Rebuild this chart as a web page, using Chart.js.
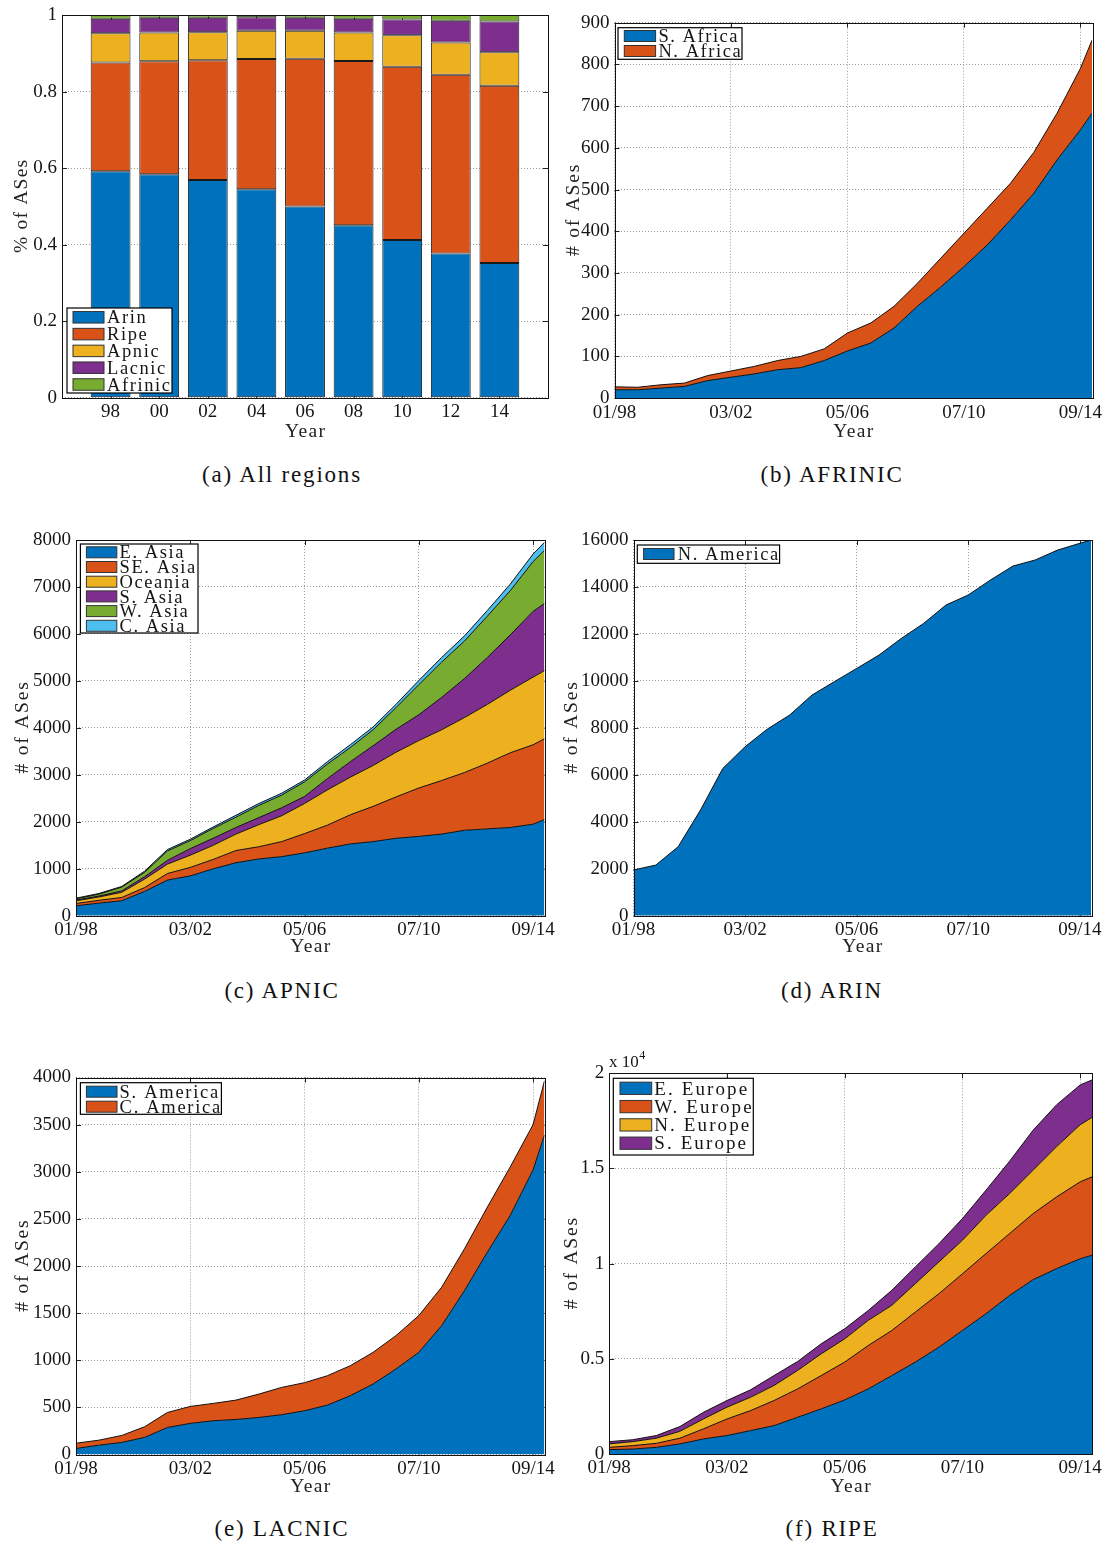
<!DOCTYPE html>
<html><head><meta charset="utf-8">
<script src="https://cdn.jsdelivr.net/npm/chart.js@4.4.1/dist/chart.umd.min.js"></script>
<style>
html,body{margin:0;padding:0;background:#fff;}
body{width:1111px;height:1546px;position:relative;overflow:hidden;}
canvas{position:absolute;}
.cap{position:absolute;width:400px;text-align:center;font-family:'Liberation Serif','DejaVu Serif',serif;font-size:23px;letter-spacing:1.8px;line-height:1;color:#111;white-space:nowrap;}
</style></head><body>
<canvas id="ca"></canvas><canvas id="cb"></canvas><canvas id="cc"></canvas>
<canvas id="cd"></canvas><canvas id="ce"></canvas><canvas id="cf"></canvas>
<div class="cap" style="left:82px;top:463px">(a) All regions</div>
<div class="cap" style="left:632px;top:463px">(b) AFRINIC</div>
<div class="cap" style="left:82px;top:979px">(c) APNIC</div>
<div class="cap" style="left:632px;top:979px">(d) ARIN</div>
<div class="cap" style="left:82px;top:1517px">(e) LACNIC</div>
<div class="cap" style="left:632px;top:1517px">(f) RIPE</div>
<script>
// ---------- DATA ----------
// (a) share of ASes per RIR
const barYears = ['98','00','02','04','06','08','10','12','14'];
const shareArin    = [0.592,0.584,0.569,0.545,0.500,0.451,0.412,0.377,0.352];
const shareRipe    = [0.284,0.295,0.313,0.340,0.386,0.429,0.453,0.467,0.463];
const shareApnic   = [0.076,0.075,0.073,0.074,0.073,0.074,0.082,0.084,0.088];
const shareLacnic  = [0.038,0.039,0.038,0.035,0.034,0.036,0.041,0.057,0.080];
const shareAfrinic = [0.010,0.007,0.007,0.006,0.007,0.010,0.012,0.015,0.017];

// time axis: months since 01/1998
const months = [0,10,20,30,40,50,60,70,80,90,100,110,120,130,140,150,160,170,180,190,200,205];
const dateTickMonths = [0,50,100,150,200];
const dateTickLabels = ['01/98','03/02','05/06','07/10','09/14'];

// (b) AFRINIC
const afSouthAfrica = [20,20,24,28,42,50,58,68,73,90,113,132,168,220,266,315,367,427,491,571,643,683];
const afNorthAfrica = [7,6,8,8,12,15,18,22,27,28,43,48,52,55,69,80,88,88,98,112,147,175];

// (c) APNIC
const apEastAsia      = [213,270,320,520,760,850,1000,1130,1210,1260,1340,1440,1530,1580,1650,1690,1740,1820,1850,1880,1950,2050];
const apSouthEastAsia = [49,60,70,80,140,180,200,260,260,320,410,490,620,750,880,1030,1140,1230,1400,1590,1690,1720];
const apOceania       = [58,70,110,180,200,260,300,350,470,550,640,750,800,870,950,1010,1080,1170,1250,1330,1440,1450];
const apSouthAsia     = [15,20,30,50,80,140,150,140,150,170,150,240,330,420,490,550,690,830,1000,1180,1400,1430];
const apWestAsia      = [27,40,80,95,200,170,210,220,260,270,310,310,300,340,460,640,750,800,880,940,1060,1130];
const apCentralAsia   = [13,15,15,25,30,30,30,40,40,40,40,50,60,60,70,90,100,110,120,140,160,170];

// (d) ARIN
const arNorthAmerica = [1950,2160,2940,4500,6270,7200,7950,8550,9400,9970,10530,11100,11810,12450,13230,13660,14300,14890,15150,15570,15860,16000];

// (e) LACNIC
const laSouthAmerica   = [64,99,128,181,287,330,358,372,393,422,464,524,624,748,907,1084,1368,1740,2147,2537,3020,3390];
const laCentralAmerica = [56,53,74,113,159,180,184,205,248,290,298,312,318,336,354,390,407,443,478,514,480,575];

// (f) RIPE
const riEastEurope  = [230,260,350,530,790,970,1230,1490,1930,2370,2840,3420,4120,4830,5610,6490,7370,8330,9160,9740,10260,10440];
const riWestEurope  = [120,180,210,300,530,870,1050,1320,1490,1750,1990,2280,2370,2630,2810,2980,3160,3250,3470,3770,4040,4120];
const riNorthEurope = [180,210,270,360,520,620,700,790,970,1140,1220,1320,1320,1490,1670,1760,2010,2100,2280,2640,3000,3120];
const riSouthEurope = [120,100,140,250,350,350,390,520,470,530,530,520,790,880,960,1140,1320,1700,2100,2200,2090,1970];

// ---------- STYLE ----------
const FONT = "'Liberation Serif','DejaVu Serif',serif";
const TXT = '#151515';
const C_BLUE='#0072BD', C_ORANGE='#D95319', C_YELLOW='#EDB120', C_PURPLE='#7E2F8E', C_GREEN='#77AC30', C_CYAN='#4DBEEE';
const TICK_FONT = {family: FONT, size: 19, lineHeight: 1};

function framePlugin(cfg) {
  return {
    id: 'frame',
    beforeDatasetsDraw(chart) {
      const {ctx, chartArea: a, scales} = chart;
      const L = 5;
      ctx.save();
      ctx.strokeStyle = '#222'; ctx.lineWidth = 1;
      ctx.beginPath();
      scales.y.ticks.forEach(t => {
        const y = Math.round(scales.y.getPixelForValue(t.value)) + 0.5;
        ctx.moveTo(a.left, y); ctx.lineTo(a.left + L, y);
        ctx.moveTo(a.right, y); ctx.lineTo(a.right - L, y);
      });
      scales.x.ticks.forEach((t, i) => {
        if (cfg.bar && (i === 0 || i === scales.x.ticks.length - 1)) return;
        const x = Math.round(scales.x.getPixelForTick(i)) + 0.5;
        ctx.moveTo(x, a.bottom); ctx.lineTo(x, a.bottom - L);
        ctx.moveTo(x, a.top); ctx.lineTo(x, a.top + L);
      });
      ctx.stroke();
      ctx.restore();
    },
    afterDatasetsDraw(chart) {
      const {ctx, chartArea: a} = chart;
      ctx.save();
      ctx.strokeStyle = '#111'; ctx.lineWidth = 1;
      ctx.strokeRect(Math.round(a.left) + 0.5, Math.round(a.top) + 0.5, Math.round(a.right - a.left), Math.round(a.bottom - a.top));
      ctx.restore();
    },
    afterDraw(chart) {
      const ctx = chart.ctx;
      const a = chart.chartArea;
      const lg = cfg.legend, ox = cfg.x0, oy = cfg.y0;
      ctx.save();
      // axis titles
      ctx.fillStyle = '#222'; ctx.textAlign = 'center'; ctx.textBaseline = 'middle';
      ctx.font = '19.5px ' + FONT;
      ctx.letterSpacing = '1.4px';
      ctx.fillText('Year', (a.left + a.right) / 2 + 0.7, a.bottom + cfg.xTitle);
      ctx.save();
      ctx.translate(cfg.yTitleX - ox, (a.top + a.bottom) / 2);
      ctx.rotate(-Math.PI / 2);
      ctx.letterSpacing = cfg.yTitleLs + 'px';
      ctx.fillText(cfg.yTitle, cfg.yTitleLs / 2, 0);
      ctx.restore();
      // legend
      ctx.fillStyle = '#fff';
      ctx.fillRect(lg.box[0] - ox, lg.box[1] - oy, lg.box[2], lg.box[3]);
      ctx.strokeStyle = '#000'; ctx.lineWidth = 1.2;
      ctx.strokeRect(lg.box[0] - ox, lg.box[1] - oy, lg.box[2], lg.box[3]);
      chart.data.datasets.forEach((ds, i) => {
        const cy = lg.row0 + lg.step * i - oy;
        ctx.fillStyle = ds.backgroundColor;
        ctx.fillRect(lg.sx - ox, cy - lg.sh / 2, lg.sw, lg.sh);
        ctx.strokeStyle = '#333'; ctx.lineWidth = 1;
        ctx.strokeRect(lg.sx - ox, cy - lg.sh / 2, lg.sw, lg.sh);
        ctx.font = lg.font + 'px ' + FONT;
        ctx.letterSpacing = lg.ls + 'px';
        ctx.fillStyle = TXT; ctx.textAlign = 'left'; ctx.textBaseline = 'alphabetic';
        ctx.fillText(ds.label, lg.tx - ox, cy + lg.font * 0.33);
      });
      if (cfg.exponent) {
        ctx.letterSpacing = '0px';
        ctx.fillStyle = TXT; ctx.textAlign = 'left'; ctx.textBaseline = 'alphabetic';
        ctx.font = '17px ' + FONT;
        const ex = cfg.exponent;
        ctx.fillText('x 10', ex.x - ox, ex.y - oy);
        const w = ctx.measureText('x 10').width;
        ctx.font = '12px ' + FONT;
        ctx.fillText('4', ex.x - ox + w + 0.5, ex.y - oy - 8);
      }
      ctx.restore();
    }
  };
}

function build(id, cfg, type, data, xScale) {
  const cv = document.getElementById(id);
  const a = cfg.area;
  const xAxisH = cfg.xTitle + 9.5;
  const h = Math.round(a.b + xAxisH - cfg.y0);
  cv.width = cfg.w; cv.height = h;
  cv.style.left = cfg.x0 + 'px'; cv.style.top = cfg.y0 + 'px';
  cv.style.width = cfg.w + 'px'; cv.style.height = h + 'px';
  xScale.afterFit = s => { s.height = xAxisH; };
  new Chart(cv, {
    type, data,
    options: {
      responsive: false, animation: false, devicePixelRatio: 1,
      layout: {padding: {left: 0, top: a.t - cfg.y0, right: cfg.x0 + cfg.w - a.r, bottom: 0}},
      plugins: {legend: {display: false}, tooltip: {enabled: false}},
      elements: {point: {radius: 0}, line: {tension: 0}},
      scales: {
        x: xScale,
        y: {
          stacked: true, min: 0, max: cfg.yMax,
          ticks: {stepSize: cfg.yStep, font: TICK_FONT, color: TXT, padding: 5,
                  callback: cfg.yFmt || (v => String(v))},
          grid: {color: '#9a9a9a', lineWidth: 1, drawTicks: false},
          border: {display: false, dash: [1, 2]},
          afterFit: s => { s.width = a.l - cfg.x0; }
        }
      }
    },
    plugins: [framePlugin(cfg)]
  });
}

function dateAxis() {
  return {
    type: 'linear', min: 0, max: 205,
    afterBuildTicks: s => { s.ticks = dateTickMonths.map(v => ({value: v})); },
    ticks: {autoSkip: false, maxRotation: 0, padding: 5, font: TICK_FONT, color: TXT,
            callback: v => dateTickLabels[dateTickMonths.indexOf(v)]},
    grid: {color: '#9a9a9a', lineWidth: 1, drawTicks: false},
    border: {display: false, dash: [1, 2]}
  };
}

function areaData(series) {
  return {
    labels: months,
    datasets: series.map((s, i) => ({
      label: s[0], data: s[1], backgroundColor: s[2],
      borderColor: '#111', borderWidth: 1, fill: i === 0 ? 'origin' : '-1', pointRadius: 0
    }))
  };
}

// (a) All regions
const padLabels = [''].concat(barYears, ['']);
const pad = arr => [null].concat(arr, [null]);
build('ca', {
  x0: 0, y0: 0, w: 575, area: {l: 62, t: 15, r: 548, b: 398}, xTitle: 33.7, yTitleX: 22, yTitleLs: 1.2,
  yMax: 1, yStep: 0.2, yTitle: '% of ASes', bar: true,
  legend: {box: [67, 308, 105, 85], row0: 317.3, step: 16.8, sx: 73, sw: 31, sh: 11.5, tx: 107, font: 18.5, ls: 1.6}
}, 'bar', {
  labels: padLabels,
  datasets: [
    ['Arin', shareArin, C_BLUE], ['Ripe', shareRipe, C_ORANGE], ['Apnic', shareApnic, C_YELLOW],
    ['Lacnic', shareLacnic, C_PURPLE], ['Afrinic', shareAfrinic, C_GREEN]
  ].map(s => ({label: s[0], data: pad(s[1]), backgroundColor: s[2], borderColor: '#1a1a1a', borderWidth: 1,
               borderSkipped: false, barPercentage: 0.82, categoryPercentage: 1}))
}, {
  type: 'category', stacked: true, offset: false,
  ticks: {autoSkip: false, maxRotation: 0, padding: 5, font: TICK_FONT, color: TXT},
  grid: {display: false, drawTicks: false},
  border: {display: false}
});

// (b) AFRINIC
build('cb', {
  x0: 550, y0: 0, w: 561, area: {l: 614.5, t: 22.7, r: 1092, b: 398.3}, xTitle: 33.4, yTitleX: 574, yTitleLs: 1.8,
  yMax: 900, yStep: 100, yTitle: '# of ASes',
  legend: {box: [618, 27.7, 124, 31.6], row0: 36, step: 15, sx: 624.3, sw: 31.3, sh: 11, tx: 658.4, font: 18.5, ls: 1.55}
}, 'line', areaData([['S. Africa', afSouthAfrica, C_BLUE], ['N. Africa', afNorthAfrica, C_ORANGE]]), dateAxis());

// (c) APNIC
build('cc', {
  x0: 0, y0: 520, w: 575, area: {l: 76, t: 540, r: 544.5, b: 916}, xTitle: 30.7, yTitleX: 23, yTitleLs: 1.8,
  yMax: 8000, yStep: 1000, yTitle: '# of ASes',
  legend: {box: [80.4, 544, 117.6, 89], row0: 552.3, step: 14.7, sx: 86.4, sw: 30.4, sh: 11, tx: 119.6, font: 18.5, ls: 1.55}
}, 'line', areaData([
  ['E. Asia', apEastAsia, C_BLUE], ['SE. Asia', apSouthEastAsia, C_ORANGE], ['Oceania', apOceania, C_YELLOW],
  ['S. Asia', apSouthAsia, C_PURPLE], ['W. Asia', apWestAsia, C_GREEN], ['C. Asia', apCentralAsia, C_CYAN]
]), dateAxis());

// (d) ARIN
build('cd', {
  x0: 550, y0: 520, w: 561, area: {l: 633.5, t: 540, r: 1091, b: 916}, xTitle: 30.7, yTitleX: 571.4, yTitleLs: 1.8,
  yMax: 16000, yStep: 2000, yTitle: '# of ASes',
  legend: {box: [637.3, 545, 142.3, 18.3], row0: 554, step: 15, sx: 643.6, sw: 30.4, sh: 11, tx: 677.7, font: 18.5, ls: 1.57}
}, 'line', areaData([['N. America', arNorthAmerica, C_BLUE]]), dateAxis());

// (e) LACNIC
build('ce', {
  x0: 0, y0: 1040, w: 575, area: {l: 76, t: 1077.5, r: 544.5, b: 1454}, xTitle: 32, yTitleX: 23, yTitleLs: 1.8,
  yMax: 4000, yStep: 500, yTitle: '# of ASes',
  legend: {box: [80.4, 1082.7, 141, 31.6], row0: 1091.7, step: 15, sx: 86.4, sw: 30.6, sh: 11, tx: 119.6, font: 18.5, ls: 1.7}
}, 'line', areaData([['S. America', laSouthAmerica, C_BLUE], ['C. America', laCentralAmerica, C_ORANGE]]), dateAxis());

// (f) RIPE
build('cf', {
  x0: 550, y0: 1040, w: 561, area: {l: 609.2, t: 1073.3, r: 1092, b: 1453.5}, xTitle: 32.5, yTitleX: 572.3, yTitleLs: 1.8,
  yMax: 20000, yStep: 5000, yTitle: '# of ASes', yFmt: v => String(v / 10000),
  exponent: {x: 609, y: 1067},
  legend: {box: [613.3, 1078.3, 140, 76.7], row0: 1088.3, step: 18.3, sx: 620, sw: 31.7, sh: 12.3, tx: 654.3, font: 19, ls: 2.1}
}, 'line', areaData([
  ['E. Europe', riEastEurope, C_BLUE], ['W. Europe', riWestEurope, C_ORANGE],
  ['N. Europe', riNorthEurope, C_YELLOW], ['S. Europe', riSouthEurope, C_PURPLE]
]), dateAxis());
</script>
</body></html>
